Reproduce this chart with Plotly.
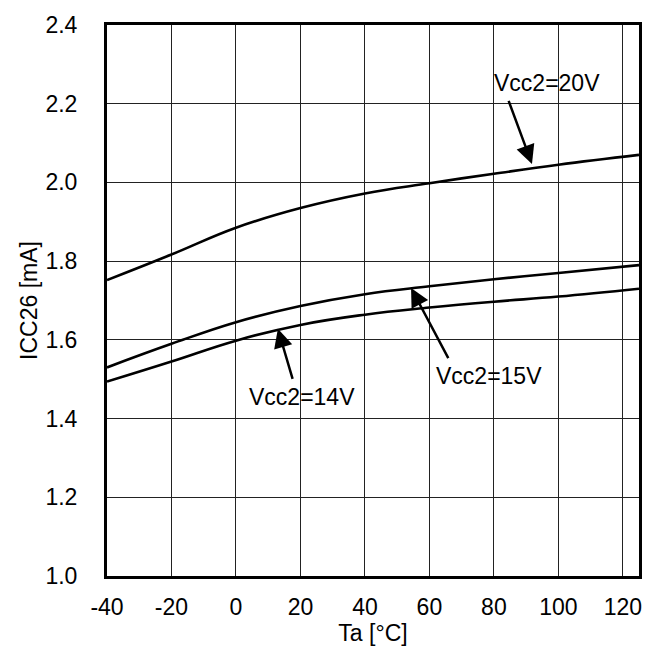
import plotly.graph_objects as go

ta = [-40, -20, 0, 20, 40, 60, 80, 100, 125]
icc_20v = [1.752, 1.817, 1.885, 1.935, 1.972, 1.998, 2.022, 2.045, 2.070]
icc_15v = [1.530, 1.590, 1.645, 1.686, 1.716, 1.736, 1.754, 1.770, 1.790]
icc_14v = [1.494, 1.545, 1.598, 1.638, 1.664, 1.682, 1.697, 1.710, 1.730]

x_ticks = [-40, -20, 0, 20, 40, 60, 80, 100, 120]
y_ticks = [1.0, 1.2, 1.4, 1.6, 1.8, 2.0, 2.2, 2.4]

FONT = "Liberation Sans, Arial, sans-serif"
FS = 23

fig = go.Figure()
for ys in (icc_20v, icc_15v, icc_14v):
    fig.add_trace(go.Scatter(x=ta, y=ys, mode="lines",
                             line=dict(color="black", width=2.6, shape="spline", smoothing=1.2),
                             showlegend=False, hoverinfo="skip"))

labels = [
    # text, text_x, text_y, tip_x, tip_y, tail_x, tail_y
    ("Vcc2=20V", 96.6, 2.252, 91.8, 2.047, 84.4, 2.211),
    ("Vcc2=15V", 78.6, 1.507, 54.3, 1.732, 66.1, 1.550),
    ("Vcc2=14V", 20.6, 1.454, 13.0, 1.628, 17.7, 1.497),
]
for txt, tx, ty, hx, hy, sx, sy in labels:
    fig.add_annotation(x=tx, y=ty, text=txt, showarrow=False,
                       font=dict(family=FONT, size=FS, color="black"),
                       xanchor="center", yanchor="middle")
    fig.add_annotation(x=hx, y=hy, ax=sx, ay=sy, axref="x", ayref="y",
                       text="", showarrow=True, arrowhead=2, arrowsize=1.5,
                       arrowwidth=2.5, arrowcolor="black")

fig.update_xaxes(range=[-40, 125], tickvals=x_ticks, ticktext=[str(v) for v in x_ticks],
                 showgrid=True, gridcolor="#222", gridwidth=1,
                 showline=True, linecolor="black", linewidth=3, mirror=True,
                 ticks="", zeroline=False, ticklabelstandoff=8,
                 tickfont=dict(family=FONT, size=FS, color="black"),
                 title=dict(text="Ta [°C]", font=dict(family=FONT, size=FS, color="black"), standoff=6))
fig.update_yaxes(range=[1.0, 2.4], tickvals=y_ticks, ticktext=[f"{v:.1f}" for v in y_ticks],
                 showgrid=True, gridcolor="#222", gridwidth=1,
                 showline=True, linecolor="black", linewidth=3, mirror=True,
                 ticks="", zeroline=False, ticklabelstandoff=22,
                 tickfont=dict(family=FONT, size=FS, color="black"),
                 title=dict(text="ICC26 [mA]", font=dict(family=FONT, size=FS, color="black"), standoff=2))

fig.update_layout(width=656, height=654, paper_bgcolor="white", plot_bgcolor="white",
                  margin=dict(l=107, r=17, t=22, b=77))

fig.write_html("out.html")
